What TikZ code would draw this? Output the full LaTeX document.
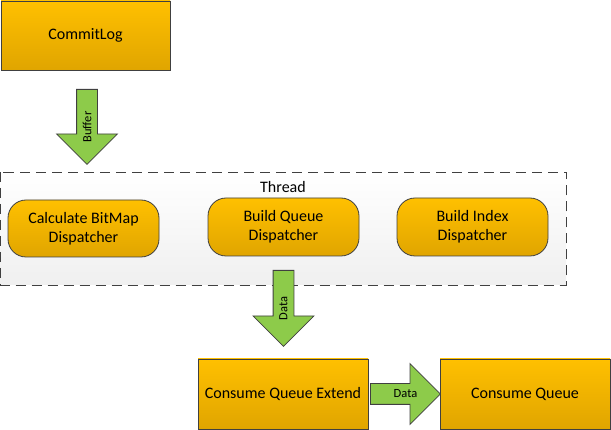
\documentclass[tikz,border=0pt]{standalone}
\usepackage{fontspec}
\setmainfont{Carlito}
\usetikzlibrary{shapes.arrows,calc}
\definecolor{ortop}{HTML}{FFC000}
\definecolor{orbot}{HTML}{E0A500}
\definecolor{grn}{HTML}{8DCB4A}
\definecolor{edge}{HTML}{404040}
\tikzset{
  box/.style={draw=edge,line width=0.8pt,top color=ortop,bottom color=orbot,
    minimum width=170pt,minimum height=70pt,font=\fontsize{16}{19}\selectfont},
  disp/.style={box,rounded corners=18pt,minimum width=151pt,minimum height=58pt,align=center},
  pipe/.style={single arrow,draw=edge,line width=0.8pt,fill=grn,anchor=tail,
    single arrow head indent=0pt,single arrow head extend=20pt,inner sep=0pt,
    text height=20pt,text depth=0pt},
  pipetext/.style={font=\fontsize{12.5}{14}\selectfont,inner sep=0pt},
}
\begin{document}
\begin{tikzpicture}[x=1pt,y=-1pt]
      \useasboundingbox (0,0) rectangle (611,430);
      \draw[edge,line width=0.8pt,dash pattern=on 10pt off 6pt,top color=white,bottom color=black!6]
        (0.5,172) rectangle (566,285);
      \coordinate (thread) at (283,187) ;
      \node at (thread) [font=\fontsize{16}{19}\selectfont] {Thread} ;
      \node (commit) at (85.5,35.5) [box,minimum width=169pt,minimum height=69pt] {CommitLog};
      \node (calc) at (83.5,228.5) [disp,minimum height=57pt] {Calculate BitMap\\Dispatcher};
      \node (bqueue) at (283.5,227) [disp] {Build Queue\\Dispatcher};
      \node (bindex) at (472.5,227) [disp] {Build Index\\Dispatcher};
      \node (cqe) at (283,394) [box] {Consume Queue Extend};
      \node (cq) at (525,394) [box] {Consume Queue};
      % block arrows, text set on top
      \node (buf) at (87,89) [pipe,rotate=90,shape border rotate=180,minimum height=75pt] {};
      \node (data) at (283.5,270) [pipe,rotate=90,shape border rotate=180,minimum height=76pt] {};
      \node (data') at (370,394) [pipe,minimum height=70pt] {};
      \node at ($(buf.tail)!0.5!(buf.tip)$) [pipetext,rotate=90] {Buffer};
      \node at ($(data.tail)!0.5!(data.tip)$) [pipetext,rotate=90] {Data};
      \node at ($(data'.tail)!0.5!(data'.tip)$) [pipetext] {Data};
\end{tikzpicture}
\end{document}
